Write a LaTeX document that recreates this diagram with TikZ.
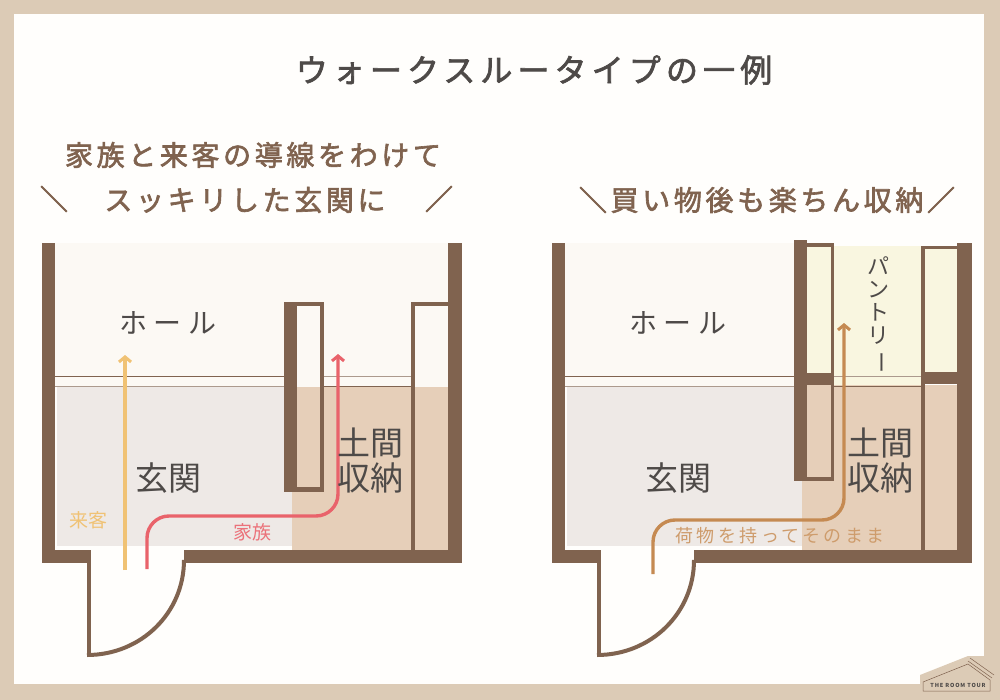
\documentclass[tikz,border=0pt]{standalone}
\usepackage{fontspec}
\setmainfont{Noto Sans CJK JP}
\newfontfamily\jpbold[FakeBold=2.2]{Noto Sans CJK JP}
\usetikzlibrary{arrows.meta}
\definecolor{tanframe}{HTML}{DCCBB6}
\definecolor{paper}{HTML}{FFFEFC}
\definecolor{wallbrown}{HTML}{80634F}
\definecolor{hallcream}{HTML}{FCF9F4}
\definecolor{genkangray}{HTML}{EEE9E6}
\definecolor{domabeige}{HTML}{E6CFB9}
\definecolor{pantryyellow}{HTML}{F9F6E0}
\definecolor{inkgray}{HTML}{4E4A48}
\definecolor{guestyellow}{HTML}{F0C274}
\definecolor{familyred}{HTML}{E9636B}
\definecolor{luggageorange}{HTML}{C58A52}
\tikzset{
  wall/.style={fill=wallbrown,draw=none},
  sill/.style={draw=wallbrown,line width=1pt},
  sillpale/.style={draw=wallbrown!65,line width=1pt},
  route/.style={line width=3.4pt,rounded corners=22pt,-{Straight Barb[length=5pt,width=12pt,line width=3pt]}},
  roomlabel/.style={text=inkgray,font=\fontsize{28}{28}\selectfont\addfontfeature{LetterSpace=22}},
  biglabel/.style={text=inkgray,align=center,font=\fontsize{33}{35}\selectfont},
  headline/.style={text=wallbrown,font=\jpbold\fontsize{28}{28}\selectfont\addfontfeature{LetterSpace=13}},
}
\begin{document}
\begin{tikzpicture}[x=1pt,y=-1pt,every node/.style={inner sep=0pt}]
\useasboundingbox (0,0) rectangle (1000,700);
\fill[tanframe] (0,0) rectangle (1000,700);
\fill[paper] (14,14) rectangle (984,684);
% logo corner
\fill[tanframe] (920,684) -- (920,675) -- (968,656) -- (984,656) -- (984,684) -- cycle;
\draw[wallbrown,line width=0.5pt] (923,682) -- (968,664) -- (990,680) -- (990,691) -- (923,691) -- cycle;
\draw[wallbrown,line width=0.5pt] (968,661) -- (992,678) (970,658) -- (994,675);
\node[text=inkgray,font=\fontsize{5.5}{6}\selectfont\bfseries\addfontfeature{LetterSpace=15}](logo) at (958,685) {THE ROOM TOUR};

% left plan
\fill[hallcream] (55,243) rectangle (449,387);
\fill[genkangray] (57,387) rectangle (292,546);
\fill[domabeige] (292,387) rectangle (448,550);
\draw[sill] (55,376) -- (284,376);
\draw[sillpale] (324,376) -- (411,376);
\draw[sillpale] (55,386) -- (284,386);
\draw[sill] (324,386) -- (411,386);
\fill[wall] (42,243) rectangle (55,563);
\fill[wall] (42,550) rectangle (91,563);
\fill[wall] (184,550) rectangle (462,563);
\fill[wall] (448,243) rectangle (462,563);
\fill[wall] (284,302) rectangle (297,492);
\fill[wall] (284,302) rectangle (324,306);
\fill[wall] (320,302) rectangle (324,492);
\fill[wall] (284,487) rectangle (324,492);
\fill[wall] (411,302) rectangle (415,550);
\fill[wall] (411,302) rectangle (448,306);
\fill[wall] (87,550) rectangle (91,657);
\draw[wallbrown,line width=4pt] (87,655) .. controls (141,655) and (184,613) .. (184,560);
\draw[route,guestyellow] (125,570) -- (125,355);
\draw[route,familyred] (147,569) -- (147,516) -- (338,516) -- (338,354);
\node[roomlabel](hallL) at (168,323) {ホール};
\node[biglabel](genkanL) at (168,478) {玄関};
\node[biglabel](domaL) at (370,461) {土間\\収納};
\node[text=guestyellow,font=\fontsize{19}{19}\selectfont](guest) at (88,520) {来客};
\node[text=familyred!90,font=\fontsize{19}{19}\selectfont](family) at (252,532) {家族};

% right plan
\fill[hallcream] (565,243) rectangle (794,387);
\fill[genkangray] (567,387) rectangle (802,546);
\fill[domabeige] (802,385) rectangle (957,550);
\fill[pantryyellow] (807,246) rectangle (921,385);
\fill[pantryyellow] (925,249) rectangle (957,372);
\draw[sill] (565,376) -- (794,376);
\draw[sillpale] (834,376) -- (921,376);
\draw[sillpale] (565,386) -- (794,386);
\draw[sill] (834,386) -- (921,386);
\fill[wall] (552,243) rectangle (565,563);
\fill[wall] (552,550) rectangle (601,563);
\fill[wall] (694,550) rectangle (972,563);
\fill[wall] (957,243) rectangle (972,563);
\fill[wall] (794,240) rectangle (807,481);
\fill[wall] (794,243) rectangle (834,247);
\fill[wall] (831,243) rectangle (834,481);
\fill[wall] (794,477) rectangle (834,481);
\fill[wall] (794,373) rectangle (834,385);
\fill[wall] (921,246) rectangle (925,550);
\fill[wall] (921,246) rectangle (957,249);
\fill[wall] (921,372) rectangle (957,384);
\fill[wall] (597,550) rectangle (601,657);
\draw[wallbrown,line width=4pt] (597,655) .. controls (651,655) and (694,613) .. (694,560);
\draw[route,luggageorange] (653,574) -- (653,520) -- (844,520) -- (844,323);
\node[roomlabel](hallR) at (678,323) {ホール};
\node[biglabel](genkanR) at (678,478) {玄関};
\node[biglabel](domaR) at (880,461) {土間\\収納};
\node[text=luggageorange!85,font=\fontsize{18}{18}\selectfont\addfontfeature{LetterSpace=19}](luggage) at (780,536) {荷物を持ってそのまま};
\node[text=inkgray,align=center,font=\fontsize{22}{23}\selectfont](pantry) at (878,315) {パ\\ン\\ト\\リ\\\rotatebox[origin=c]{-90}{ー}};

% headings
\node[text=inkgray,font=\jpbold\fontsize{32}{32}\selectfont\addfontfeature{LetterSpace=16}](title) at (534,70) {ウォークスルータイプの一例};
\node[headline](headA) at (253,155) {家族と来客の導線をわけて};
\node[headline](headB) at (245,200) {スッキリした玄関に};
\node[headline](slashA) at (54,199) {＼};
\node[headline](slashB) at (439,199) {／};
\node[headline](headC) at (767,200) {＼買い物後も楽ちん収納／};
\end{tikzpicture}
\end{document}
